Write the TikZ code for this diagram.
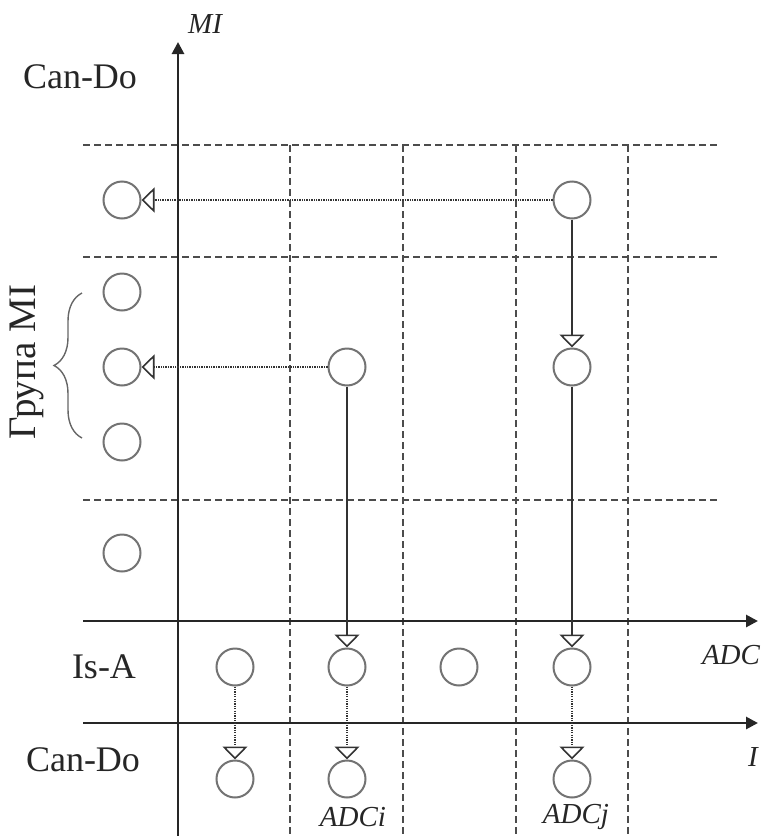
\documentclass[tikz,border=0pt]{standalone}
\usepackage{fontspec}
\setmainfont{Liberation Serif}
\usetikzlibrary{arrows.meta,decorations.pathreplacing}
\begin{document}
\begin{tikzpicture}[x=1pt,y=-1pt,
  ball/.style={circle,draw=black!55,line width=2pt,minimum size=37pt,inner sep=0pt,fill=white},
  axisline/.style={draw=black!85,line width=2.8pt,-{Triangle[length=12pt,width=12pt]}},
  gridline/.style={draw=black!70,line width=2.6pt,dash pattern=on 7pt off 4pt},
  link/.style={draw=black!80,line width=2.7pt,-{Triangle[open,length=13pt,width=25pt,line width=1.6pt]}},
  dotlink/.style={draw=black!80,line width=2.6pt,dash pattern=on 1.3pt off 1.1pt,-{Triangle[open,length=13pt,width=25pt,line width=1.6pt]}},
  lbl/.style={font=\fontsize{36}{40}\selectfont,text=black!85,inner sep=0pt},
  ilbl/.style={font=\fontsize{29}{32}\selectfont\itshape,text=black!85,inner sep=0pt}
]
\useasboundingbox (0,0) rectangle (766,836);

% dashed grid
\foreach \yy in {145,257,500}
  \draw[gridline] (83,\yy) -- (720,\yy);
\foreach \xx in {290,403,516,628}
  \draw[gridline] (\xx,145) -- (\xx,836);

% axes
\coordinate (miS) at (178,836);
\coordinate (miN) at (178,42);
\coordinate (adcW) at (83,621);
\coordinate (adcE) at (758,621);
\coordinate (iW) at (83,723);
\coordinate (iE) at (758,723);
\draw[axisline] (miS) -- (miN);
\draw[axisline] (adcW) -- (adcE);
\draw[axisline] (iW) -- (iE);

% axis labels
\node[ilbl] (lMI) at (205,24) {MI};
\node[ilbl] (lADC) at (731,655) {ADC};
\node[ilbl] (lI) at (753,757) {I};
\node[ilbl] (lADCi) at (353,817) {ADCi};
\node[ilbl] (lADCj) at (576,817) {ADCj};

% row labels
\node[lbl] (lCanTop) at (80,77) {Can-Do};
\node[lbl] (lIsA) at (104,667) {Is-A};
\node[lbl] (lCanBot) at (83,760) {Can-Do};
\node[lbl,font=\fontsize{39}{42}\selectfont,rotate=90] (lGroup) at (27,362) {Група МІ};
\draw[draw=black!60,line width=1.4pt,decorate,decoration={brace,amplitude=28pt}]
  (82,438) -- (82,293);

% circles: left column
\node[ball] (L1) at (122,200) {};
\node[ball] (L2) at (122,292) {};
\node[ball] (L3) at (122,367) {};
\node[ball] (L4) at (122,442) {};
\node[ball] (L5) at (122,553) {};
% circles: upper area
\node[ball] (Ri) at (347,367) {};
\node[ball] (Rj1) at (572,200) {};
\node[ball] (Rj2) at (572,367) {};
% circles: Is-A row
\node[ball] (A1) at (235,667) {};
\node[ball] (A2) at (347,667) {};
\node[ball] (A3) at (459,667) {};
\node[ball] (A4) at (572,667) {};
% circles: Can-Do row
\node[ball] (C1) at (235,779) {};
\node[ball] (C2) at (347,779) {};
\node[ball] (C4) at (572,779) {};

% connectors
\draw[dotlink] (Rj1) -- (L1);
\draw[dotlink] (Ri) -- (L3);
\draw[link] (Rj1) -- (Rj2);
\draw[link] (Ri) -- (A2);
\draw[link] (Rj2) -- (A4);
\draw[dotlink] (A1) -- (C1);
\draw[dotlink] (A2) -- (C2);
\draw[dotlink] (A4) -- (C4);
\end{tikzpicture}
\end{document}
